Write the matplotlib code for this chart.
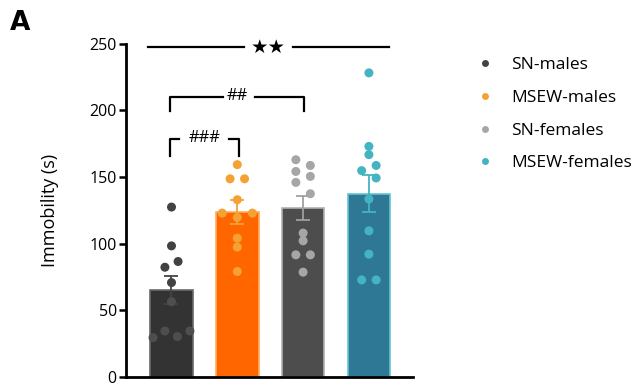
import matplotlib
matplotlib.use("Agg")
import matplotlib.pyplot as plt
from matplotlib.lines import Line2D
import numpy as np

plt.rcParams['font.family'] = ['Open Sans', 'DejaVu Sans']

groups = ["SN-males", "MSEW-males", "SN-females", "MSEW-females"]
means = [65, 124, 127, 137.5]
sems = [10.5, 9, 9, 14]

sn_males = [127.4, 98.3, 82.3, 86.6, 70.8, 56.5, 29.5, 34.5, 30.3, 34.5]
sn_males_dx = [0, 0, -0.1, 0.1, 0, 0, -0.28, -0.1, 0.09, 0.28]
msew_males = [159.2, 148.6, 148.6, 132.9, 122.9, 122.9, 119.6, 104.1, 97.4, 79.1]
msew_males_dx = [0, -0.11, 0.11, 0, -0.23, 0.23, 0, 0, 0, 0]
sn_females = [162.9, 158.6, 154.1, 150.4, 145.9, 137.4, 107.9, 102.1, 91.6, 91.6, 78.6]
sn_females_dx = [-0.11, 0.11, -0.11, 0.11, -0.11, 0.11, 0, 0, -0.11, 0.11, 0]
msew_females = [228, 172.9, 166.7, 154.7, 158.6, 149.2, 133.4, 109.6, 92.1, 72.8, 72.8]
msew_females_dx = [0, 0, 0, -0.11, 0.11, 0.11, 0, 0, 0, -0.11, 0.11]

points = [sn_males, msew_males, sn_females, msew_females]
offsets = [sn_males_dx, msew_males_dx, sn_females_dx, msew_females_dx]

bar_colors = ["#333333", "#ff6600", "#4d4d4d", "#2e7896"]
edge_colors = ["#6a6a6a", "#ffad5c", "#b0b0b0", "#62c4d0"]
point_colors = ["#424242", "#f4a234", "#a6a6a6", "#44b4c2"]
inner_point_colors = ["#4e4e4e", "#f4a234", "#a6a6a6", "#44b4c2"]
err_colors = ["#444444", "#f4a234", "#a0a0a0", "#44b4c2"]

fig = plt.figure(figsize=(6.44, 3.89), dpi=100)
ax = fig.add_axes([0.1964, 0.0308, 0.4449, 0.8573])

x = np.arange(len(groups))
ax.bar(x, means, width=0.65, color=bar_colors, edgecolor=edge_colors,
       linewidth=1.2, zorder=1)

for i in range(len(groups)):
    ax.errorbar(x[i], means[i], yerr=sems[i], fmt="none", ecolor=err_colors[i],
                elinewidth=1.3, capsize=5, capthick=1.3, zorder=3)
    px = x[i] + np.array(offsets[i])
    py = np.array(points[i])
    cols = [inner_point_colors[i] if v < means[i] else point_colors[i] for v in py]
    ax.scatter(px, py, s=42, c=cols, edgecolors="none", zorder=4)

ax.set_ylim(0, 250)
ax.set_xlim(-0.684, 3.67)
ax.set_yticks([0, 50, 100, 150, 200, 250])
ax.set_xticks([])
ax.spines["top"].set_visible(False)
ax.spines["right"].set_visible(False)
ax.spines["left"].set_linewidth(2)
ax.spines["bottom"].set_linewidth(2)
ax.tick_params(axis="y", direction="out", length=5, width=1.8, labelsize=11.5,
               pad=2, colors="black")
ax.set_ylabel("Immobility (s)", fontsize=13, labelpad=22)

# significance markers
ax.plot([-0.36, 1.1], [247.2, 247.2], color="black", lw=1.6, clip_on=False)
ax.plot([1.85, 3.3], [247.2, 247.2], color="black", lw=1.6, clip_on=False)
ax.text(1.47, 247.2, "\u2605\u2605", ha="center", va="center", fontsize=14,
        family="DejaVu Sans")

ax.plot([-0.02, -0.02, 0.78], [199.7, 209.7, 209.7], color="black", lw=1.6)
ax.plot([1.27, 2.02, 2.02], [209.7, 209.7, 199.7], color="black", lw=1.6)
ax.text(1.0, 210.5, "##", ha="center", va="center", fontsize=12)

ax.plot([-0.02, -0.02, 0.12], [166, 178.5, 178.5], color="black", lw=1.6)
ax.plot([0.88, 1.02, 1.02], [178.5, 178.5, 166], color="black", lw=1.6)
ax.text(0.5, 179.5, "###", ha="center", va="center", fontsize=12)

handles = [Line2D([0], [0], marker="o", linestyle="none", markersize=5,
                  markerfacecolor=c, markeredgecolor="none") for c in point_colors]
fig.legend(handles, groups, loc="upper left", bbox_to_anchor=(0.715, 0.893),
           frameon=False, fontsize=12.5, handletextpad=1.0, labelspacing=0.95,
           handlelength=1.0)

fig.text(0.015, 0.975, "A", fontsize=19, fontweight="bold", va="top", ha="left",
         family="DejaVu Sans")

fig.savefig("out.png", dpi=100)
